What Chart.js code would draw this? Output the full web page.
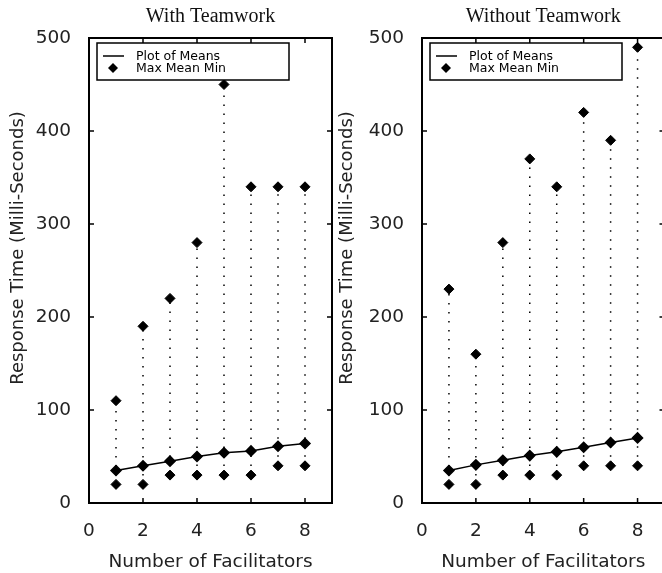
<!DOCTYPE html>
<html>
<head>
  <title>Response Time</title>
  <script src="https://cdn.jsdelivr.net/npm/chart.js@4"></script>
  <style>
    body { margin: 0; width: 662px; height: 573px; overflow: hidden; background: #fff; position: relative; }
    .panel { position: absolute; top: 0; width: 340px; height: 573px; }
  </style>
</head>
<body>
  <div class="panel" style="left:0"><canvas id="with-teamwork"></canvas></div>
  <div class="panel" style="left:331px"><canvas id="without-teamwork"></canvas></div>

  <script>
    let facilitators = [1, 2, 3, 4, 5, 6, 7, 8]

    let withMax = [110, 190, 220, 280, 450, 340, 340, 340]
    let withMean = [35, 40, 45, 50, 54, 56, 61, 64]
    let withMin = [20, 20, 30, 30, 30, 30, 40, 40]

    let withoutMax = [230, 160, 280, 370, 340, 420, 390, 490]
    let withoutMean = [35, 41, 46, 51, 55, 60, 65, 70]
    let withoutMin = [20, 20, 30, 30, 30, 40, 40, 40]

    let xTicks = [0, 2, 4, 6, 8]
    let yTicks = [0, 100, 200, 300, 400, 500]

    const sans = '"DejaVu Sans", sans-serif'

    // frame, inward ticks, panel title, y title and boxed legend
    const decorations = {
      id: 'decorations',
      afterDraw(chart, args, opts) {
        const ctx = chart.ctx
        const a = chart.chartArea
        const xs = chart.scales.x, ys = chart.scales.y
        ctx.save()
        ctx.strokeStyle = '#000'
        ctx.lineWidth = 2
        ctx.strokeRect(a.left, a.top, a.right - a.left, a.bottom - a.top)

        ctx.lineWidth = 1.5
        ctx.beginPath()
        xTicks.forEach(v => {
          const px = xs.getPixelForValue(v)
          ctx.moveTo(px, a.bottom); ctx.lineTo(px, a.bottom - 5)
          ctx.moveTo(px, a.top); ctx.lineTo(px, a.top + 5)
        })
        yTicks.forEach(v => {
          const py = ys.getPixelForValue(v)
          ctx.moveTo(a.left, py); ctx.lineTo(a.left + 5, py)
          ctx.moveTo(a.right, py); ctx.lineTo(a.right - 5, py)
        })
        ctx.stroke()

        ctx.fillStyle = '#111'
        ctx.textAlign = 'center'
        ctx.textBaseline = 'alphabetic'
        ctx.font = '20px "Liberation Serif", serif'
        ctx.fillText(opts.title, (a.left + a.right) / 2, 22)

        ctx.save()
        ctx.translate(opts.yTitleX, 248)
        ctx.rotate(-Math.PI / 2)
        ctx.textBaseline = 'middle'
        ctx.font = '18px ' + sans
        ctx.fillStyle = '#222'
        ctx.fillText('Response Time (Milli-Seconds)', 0, 0)
        ctx.restore()

        // legend
        const lx = a.left + 8, ly = a.top + 5
        ctx.fillStyle = '#fff'
        ctx.fillRect(lx, ly, 192, 37)
        ctx.lineWidth = 1.5
        ctx.strokeRect(lx, ly, 192, 37)
        ctx.beginPath()
        ctx.moveTo(lx + 6, ly + 13); ctx.lineTo(lx + 27, ly + 13)
        ctx.stroke()
        ctx.fillStyle = '#000'
        ctx.beginPath()
        ctx.moveTo(lx + 16, ly + 20); ctx.lineTo(lx + 21, ly + 25)
        ctx.lineTo(lx + 16, ly + 30); ctx.lineTo(lx + 11, ly + 25)
        ctx.closePath(); ctx.fill()
        ctx.font = '12.5px ' + sans
        ctx.textAlign = 'left'
        ctx.textBaseline = 'middle'
        ctx.fillText('Plot of Means', lx + 39, ly + 14)
        ctx.fillText('Max Mean Min', lx + 39, ly + 26)
        ctx.restore()
      }
    }

    function makeChart(id, title, maxs, means, mins, yWidth, rightPad, yTitleX) {
      let ranges = []
      let extremes = []
      facilitators.forEach((f, i) => {
        ranges.push({x: f, y: mins[i]}, {x: f, y: maxs[i]}, {x: f, y: null})
        extremes.push({x: f, y: maxs[i]}, {x: f, y: mins[i]})
      })
      let meanPoints = facilitators.map((f, i) => ({x: f, y: means[i]}))

      return new Chart(document.getElementById(id).getContext('2d'), {
        type: 'scatter',
        data: {
          datasets: [{
            label: 'range',
            data: ranges,
            showLine: true,
            spanGaps: false,
            borderColor: '#000',
            borderWidth: 1.5,
            borderDash: [1.5, 7.5],
            pointRadius: 0
          }, {
            label: 'Plot of Means',
            data: meanPoints,
            showLine: true,
            borderColor: '#000',
            borderWidth: 1.5,
            backgroundColor: '#000',
            pointStyle: 'rectRot',
            pointRadius: 5
          }, {
            label: 'Max Mean Min',
            data: extremes,
            borderColor: '#000',
            backgroundColor: '#000',
            pointStyle: 'rectRot',
            pointRadius: 5
          }]
        },
        options: {
          responsive: false,
          animation: false,
          layout: { padding: { top: 38, right: rightPad, left: 0, bottom: 0 } },
          plugins: {
            legend: { display: false },
            tooltip: { enabled: false },
            decorations: { title: title, yTitleX: yTitleX }
          },
          scales: {
            x: {
              type: 'linear',
              min: 0,
              max: 9,
              grid: { display: false },
              border: { display: false },
              ticks: { stepSize: 2, includeBounds: false, padding: 9, color: '#222', font: { family: sans, size: 18.5 } },
              title: { display: true, text: 'Number of Facilitators', color: '#222', padding: { top: 10, bottom: 0 }, font: { family: sans, size: 18.5 } },
              afterFit: s => { s.height = 70 }
            },
            y: {
              min: 0,
              max: 500,
              grid: { display: false },
              border: { display: false },
              ticks: { stepSize: 100, padding: 10, color: '#222', font: { family: sans, size: 18.5 } },
              afterFit: s => { s.width = yWidth }
            }
          }
        },
        plugins: [decorations]
      })
    }

    for (const c of document.querySelectorAll('canvas')) { c.width = 340; c.height = 573 }
    makeChart('with-teamwork', 'With Teamwork', withMax, withMean, withMin, 89, 8, 18)
    makeChart('without-teamwork', 'Without Teamwork', withoutMax, withoutMean, withoutMin, 91, 6, 16)
  </script>
</body>
</html>
